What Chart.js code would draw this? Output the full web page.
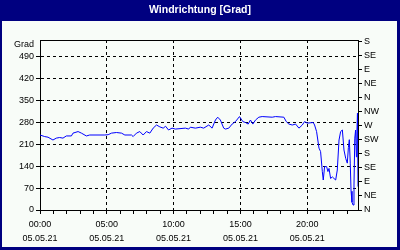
<!DOCTYPE html>
<html><head><meta charset="utf-8">
<script src="https://cdn.jsdelivr.net/npm/chart.js@4"></script>
<style>html,body{margin:0;padding:0;background:#000080}canvas{display:block}</style>
</head><body>
<canvas id="c" width="400" height="250"></canvas>
<script>
const chartTitle = 'Windrichtung [Grad]';
const hours = [0,0.35,0.6,0.97,1.22,1.47,1.72,1.97,2.35,2.47,2.85,3.1,3.47,3.72,4.85,5.1,5.35,5.72,6.1,6.35,6.85,6.97,7.22,7.47,7.72,7.97,8.22,8.47,8.72,8.97,9.22,9.4,9.62,9.88,10.13,10.88,11.13,11.25,11.63,12.0,12.25,12.63,12.88,13.13,13.3,13.5,13.75,13.88,14.13,14.38,14.63,14.93,15.18,15.38,15.58,15.75,15.93,16.13,16.38,16.63,17.38,17.63,18.25,18.43,18.63,18.88,19.13,19.38,19.63,19.8,20.0,20.45,20.55,20.7,20.88,21.0,21.13,21.2,21.3,21.45,21.55,21.63,21.75,21.88,22.0,22.13,22.25,22.38,22.5,22.63,22.75,22.88,23.0,23.08,23.15,23.22,23.28,23.35,23.43,23.5,23.56,23.62,23.68,23.72,23.76,23.8];
const degrees = [240,235,233,224,230,232,230,237,237,246,251,246,237,240,240,241,246,248,246,240,240,235,246,251,240,251,246,262,272,266,262,268,256,262,259,262,259,265,262,265,262,272,262,288,297,288,262,259,262,275,283,299,283,280,275,288,275,288,297,299,297,299,297,283,275,272,275,262,272,283,278,280,272,251,198,187,123,96,139,139,123,133,101,106,101,96,128,224,251,256,192,165,150,200,225,150,60,25,16,80,230,256,170,250,310,75];
const xTickHours = [0,5,10,15,20];
const xTickTimes = ['00:00','05:00','10:00','15:00','20:00'];
const xTickDate = '05.05.21';
const yLeftTicks = [0,70,140,210,280,350,420,490];
const yLeftUnit = 'Grad';
const yLeftUnitAt = 530;
const yRightTicks = [0,45,90,135,180,225,270,315,360,405,450,495,540];
const yRightLabels = ['N','NE','E','SE','S','SW','W','NW','N','NE','E','SE','S'];

const tickFont = {family:'Liberation Sans', size:9};

const frame = {
  id:'frame',
  beforeDraw(chart){
    const ctx = chart.ctx;
    ctx.save();
    ctx.fillStyle = '#000080';
    ctx.fillRect(0,0,chart.width,chart.height);
    ctx.fillStyle = '#f8fcf8';
    ctx.fillRect(2,21,chart.width-5,chart.height-24);
    ctx.restore();
  },
  afterDraw(chart){
    const a = chart.chartArea, ctx = chart.ctx;
    ctx.save();
    ctx.strokeStyle = '#000';
    ctx.lineWidth = 1;
    ctx.beginPath();
    ctx.moveTo(a.left, Math.round(a.top)+0.5);
    ctx.lineTo(a.right, Math.round(a.top)+0.5);
    ctx.stroke();
    ctx.restore();
  }
};

new Chart(document.getElementById('c'), {
  type:'line',
  data:{datasets:[{
    data: hours.map((h,i)=>({x:h, y:degrees[i]})),
    borderColor:'#0000ff', borderWidth:1, pointRadius:0, tension:0, fill:false
  }]},
  options:{
    responsive:false, animation:false,
    layout:{padding:0},
    plugins:{
      legend:{display:false}, tooltip:{enabled:false},
      title:{display:true, text:chartTitle, color:'#ffffff',
        font:{family:'Liberation Sans', weight:'bold', size:10.5, lineHeight:'14px'},
        padding:{top:3,bottom:23}}
    },
    scales:{
      x:{type:'linear', min:0, max:23.8,
        afterBuildTicks(s){ const t=[]; for(let h=0;h<=23;h++) t.push({value:h}); s.ticks=t; },
        afterFit(s){ s.height = 40; },
        ticks:{autoSkip:false, maxRotation:0, color:'#000', font:{...tickFont, lineHeight:'14px'}, padding:4,
          callback(v){ const i = xTickHours.indexOf(v); return i>=0 ? [xTickTimes[i], xTickDate] : ''; }},
        grid:{color(c){ const v=c.tick&&c.tick.value; return (v>0 && xTickHours.includes(v)) ? '#000' : 'rgba(0,0,0,0)'; },
          tickColor:'#000', tickLength:4, lineWidth:1},
        border:{color:'#000', width:1, dash:[3,3]}
      },
      y:{type:'linear', position:'left', min:0, max:544,
        afterBuildTicks(s){ s.ticks = yLeftTicks.concat([yLeftUnitAt]).map(v=>({value:v})); },
        afterFit(s){ s.width = 40; },
        ticks:{color:'#000', font:tickFont, padding:2,
          callback(v){ return v===yLeftUnitAt ? yLeftUnit : String(v); }},
        grid:{color(c){ const v=c.tick&&c.tick.value; return (v>0 && v!==yLeftUnitAt) ? '#000' : 'rgba(0,0,0,0)'; },
          tickColor(c){ const v=c.tick&&c.tick.value; return v===yLeftUnitAt ? 'rgba(0,0,0,0)' : '#000'; },
          tickLength:4, lineWidth:1},
        border:{color:'#000', width:1, dash:[3,3]}
      },
      y2:{type:'linear', position:'right', min:0, max:544,
        afterBuildTicks(s){ s.ticks = yRightTicks.map(v=>({value:v})); },
        afterFit(s){ s.width = 42; },
        ticks:{color:'#000', font:tickFont, padding:2,
          callback(v){ return yRightLabels[yRightTicks.indexOf(v)]; }},
        grid:{drawOnChartArea:false, color:'#000', tickColor:'#000', tickLength:4},
        border:{color:'#000', width:1}
      }
    }
  },
  plugins:[frame]
});
</script>
</body></html>
